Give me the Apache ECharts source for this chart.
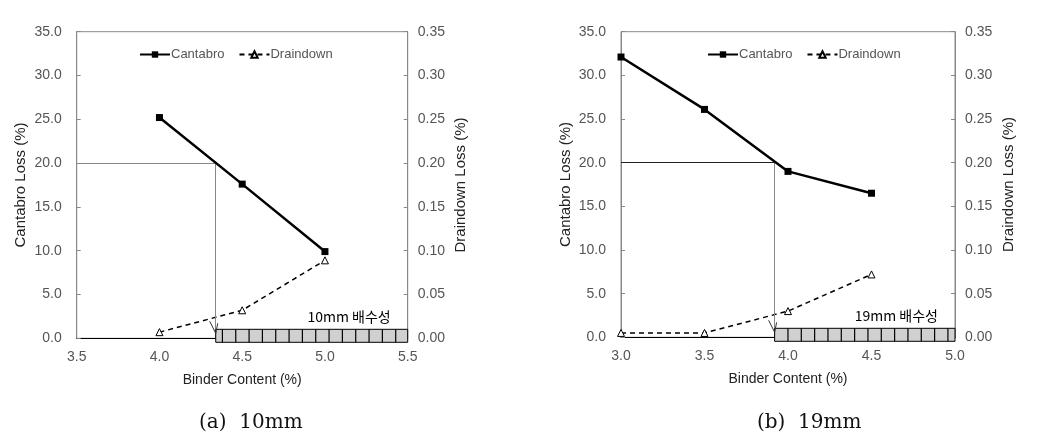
<!DOCTYPE html>
<html>
<head>
<meta charset="utf-8">
<script src="https://cdn.jsdelivr.net/npm/echarts@6/dist/echarts.min.js"></script>
<style>
html,body{margin:0;padding:0;background:#fff;}
#chart{width:1041px;height:446px;}
</style>
</head>
<body>
<div id="chart"></div>
<script>
// ---- data ----
const binderLeft = [4.0, 4.5, 5.0];
const cantabroLeft = [25.2, 17.6, 9.9];
const draindownLeft = [0.007, 0.032, 0.089];

const binderRight = [3.0, 3.5, 4.0, 4.5];
const cantabroRight = [32.1, 26.1, 19.0, 16.5];
const draindownRight = [0.005, 0.005, 0.030, 0.072];

const xRangeLeft = [3.5, 5.5];
const xRangeRight = [3.0, 5.0];
const cantabroLimit = 20;
const optimumLeft = 4.34;
const optimumRight = 3.92;
const permeableLeft = [4.34, 5.5];
const permeableRight = [3.92, 5.0];
const permeableLabels = ['10mm 배수성', '19mm 배수성'];
const captions = ['(a)  10mm', '(b)  19mm'];
const seriesNames = ['Cantabro', 'Draindown'];

// ---- chart ----
const chart = echarts.init(document.getElementById('chart'));
const labelFont = 'Liberation Sans';

function pair(xs, ys) { return xs.map((x, i) => [x, ys[i]]); }

function xAxisOf(gridIndex, range) {
  return {
    type: 'value', gridIndex: gridIndex, min: range[0], max: range[1], interval: 0.5,
    name: 'Binder Content (%)', nameLocation: 'middle', nameGap: 35,
    nameTextStyle: { color: '#222', fontSize: 14, fontFamily: labelFont },
    axisLine: { show: true, lineStyle: { color: '#000', width: 1 } },
    axisTick: { show: false },
    splitLine: { show: false },
    axisLabel: { color: '#555', fontSize: 14, fontFamily: labelFont, margin: 12,
      formatter: v => v.toFixed(1) }
  };
}
function yLeftOf(gridIndex) {
  return {
    type: 'value', gridIndex: gridIndex, position: 'left', min: 0, max: 35, interval: 5,
    name: 'Cantabro Loss (%)', nameLocation: 'middle', nameGap: 48, nameRotate: 90,
    nameTextStyle: { color: '#222', fontSize: 15, fontFamily: labelFont },
    axisLine: { show: true, lineStyle: { color: '#888' } },
    axisTick: { show: true, inside: true, length: 4, lineStyle: { color: '#888' } },
    splitLine: { show: false },
    axisLabel: { color: '#555', fontSize: 14, fontFamily: labelFont, margin: 15,
      formatter: v => v.toFixed(1) }
  };
}
function yRightOf(gridIndex) {
  return {
    type: 'value', gridIndex: gridIndex, position: 'right', min: 0, max: 0.35, interval: 0.05,
    name: 'Draindown Loss (%)', nameLocation: 'middle', nameGap: 46, nameRotate: 90,
    nameTextStyle: { color: '#222', fontSize: 15, fontFamily: labelFont },
    axisLine: { show: true, lineStyle: { color: '#888' } },
    axisTick: { show: true, inside: true, length: 4, lineStyle: { color: '#888' } },
    splitLine: { show: false },
    axisLabel: { color: '#555', fontSize: 14, fontFamily: labelFont, margin: 10,
      formatter: v => v.toFixed(2) }
  };
}

function cantabroSeries(xi, yi, data, range, opt, hColor) {
  return {
    name: seriesNames[0], type: 'line', xAxisIndex: xi, yAxisIndex: yi,
    data: data, symbol: 'rect', symbolSize: 7,
    lineStyle: { color: '#000', width: 2.5 },
    itemStyle: { color: '#000' },
    z: 5,
    markLine: {
      silent: true, animation: false, label: { show: false },
      symbol: ['none', 'none'],
      data: [
        [{ coord: [range[0], cantabroLimit], lineStyle: { color: hColor, width: 1, type: 'solid' } },
         { coord: [opt, cantabroLimit] }],
        [{ coord: [opt, cantabroLimit], lineStyle: { color: '#888', width: 1, type: 'solid' } },
         { coord: [opt, 0] }]
      ]
    }
  };
}
function draindownSeries(xi, yi, data) {
  return {
    name: seriesNames[1], type: 'line', xAxisIndex: xi, yAxisIndex: yi,
    data: data, symbol: 'triangle', symbolSize: 7,
    lineStyle: { color: '#000', width: 1.5, type: [5, 4] },
    itemStyle: { color: '#fff', borderColor: '#000', borderWidth: 1 },
    z: 4
  };
}
function permeableSeries(xi, yi, span, label, phase) {
  return {
    name: 'permeable', type: 'custom', xAxisIndex: xi, yAxisIndex: yi,
    data: [span], clip: false, silent: true, z: 6,
    renderItem: function (params, api) {
      const s = api.coord([api.value(0), 0]);
      const e = api.coord([api.value(1), 0]);
      const top = s[1] - 9, h = 13, step = 13.33;
      const children = [{
        type: 'rect', shape: { x: s[0], y: top, width: e[0] - s[0], height: h },
        style: { fill: '#d0d0d0', stroke: '#000', lineWidth: 1 }
      }];
      for (let x = s[0] + phase; x < e[0] - 1; x += step) {
        children.push({ type: 'line', shape: { x1: x, y1: top, x2: x, y2: top + h },
          style: { stroke: '#000', lineWidth: 1.2 } });
      }
      // arrow head of the optimum line
      children.push({ type: 'polyline', shape: { points: [[s[0] - 6, top - 8], [s[0], top + 4], [s[0] + 2, top - 6]] },
        style: { stroke: '#333', lineWidth: 1, fill: null } });
      children.push({ type: 'text', style: { text: label, x: e[0] - 17, y: s[1] - 22,
        align: 'right', verticalAlign: 'middle', fill: '#000',
        font: '14px "Noto Sans CJK KR"' } });
      return { type: 'group', children: children };
    }
  };
}

function legendOf(left) {
  return {
    data: seriesNames, left: left, top: 43, itemWidth: 30, itemHeight: 8, itemGap: 14,
    selectedMode: false,
    textStyle: { color: '#555', fontSize: 13, fontFamily: labelFont, padding: [0, 0, 0, -4] }
  };
}

const option = {
  animation: false,
  backgroundColor: '#fff',
  legend: [legendOf(134), legendOf(702)],
  grid: [
    { left: 76.7, right: 1041 - 407.7, top: 31.7, bottom: 446 - 338.3, show: true, borderColor: '#888', borderWidth: 1 },
    { left: 621, right: 1041 - 955, top: 31.7, bottom: 446 - 337.3, show: true, borderColor: '#888', borderWidth: 1 }
  ],
  xAxis: [xAxisOf(0, xRangeLeft), xAxisOf(1, xRangeRight)],
  yAxis: [yLeftOf(0), yRightOf(0), yLeftOf(1), yRightOf(1)],
  series: [
    cantabroSeries(0, 0, pair(binderLeft, cantabroLeft), xRangeLeft, optimumLeft, '#888'),
    draindownSeries(0, 1, pair(binderLeft, draindownLeft)),
    permeableSeries(0, 0, permeableLeft, permeableLabels[0], 6.7),
    cantabroSeries(1, 2, pair(binderRight, cantabroRight), xRangeRight, optimumRight, '#222'),
    draindownSeries(1, 3, pair(binderRight, draindownRight)),
    permeableSeries(1, 2, permeableRight, permeableLabels[1], 13.33)
  ],
  graphic: [
    { type: 'text', left: 252 - 53, top: 413, style: { text: captions[0], fill: '#111',
      font: '20px "DejaVu Serif"' } },
    { type: 'text', left: 810 - 53, top: 413, style: { text: captions[1], fill: '#111',
      font: '20px "DejaVu Serif"' } }
  ]
};
chart.setOption(option);
</script>
</body>
</html>
